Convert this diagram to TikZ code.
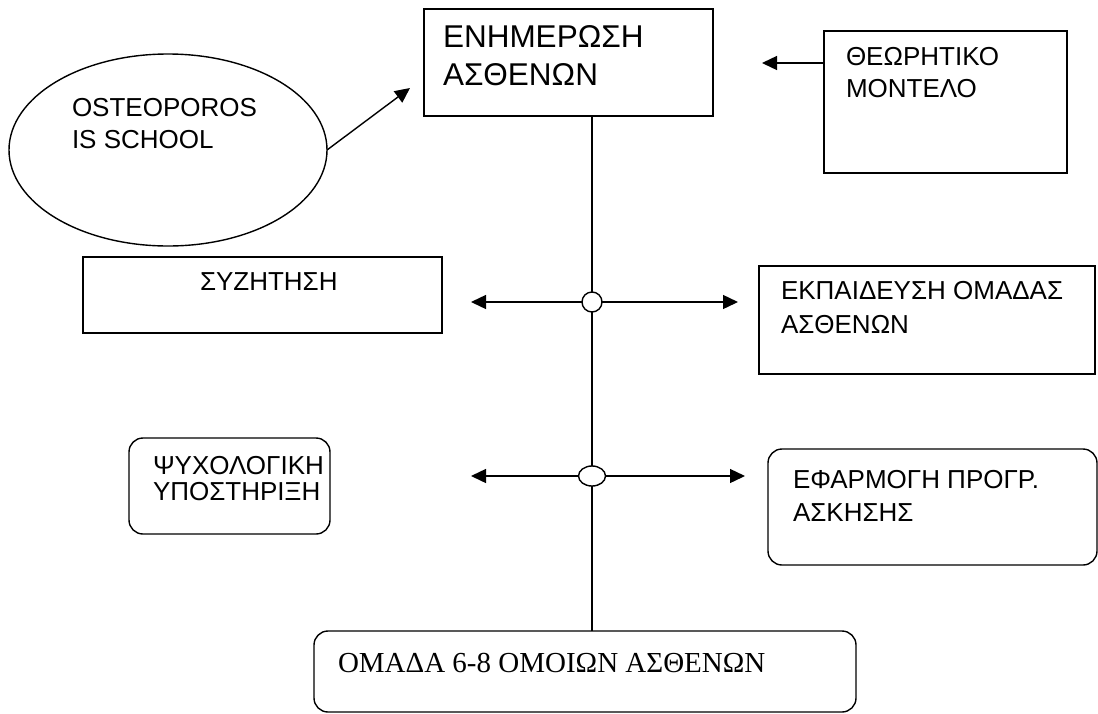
\documentclass[tikz,border=0pt]{standalone}
\usepackage{fontspec}
\setmainfont{Liberation Sans}
\newfontfamily\timesfont{Liberation Serif}
\usetikzlibrary{arrows.meta,shapes.geometric}
\begin{document}
\begin{tikzpicture}[x=1pt,y=-1pt,line width=1.4pt,
  box/.style={draw,rectangle,anchor=north west,inner sep=0pt,outer sep=0pt},
  rbox/.style={box,rounded corners=14pt},
  txt/.style={anchor=north west,inner sep=0pt,outer sep=0pt,align=left},
  arr/.style={-{Triangle[length=15pt,width=14pt]}},
  hub/.style={draw,fill=white,inner sep=0pt,outer sep=0pt}]
\useasboundingbox (0,0) rectangle (1098,713);
% boxes
\node[box,minimum width=289pt,minimum height=107pt] (enh) at (424,9) {};
\node[box,minimum width=243pt,minimum height=142pt] (theo) at (824,31) {};
\node[draw,ellipse,inner sep=0pt,outer sep=0pt,minimum width=318pt,minimum height=192pt] (ost) at (168,150) {};
\node[box,minimum width=359pt,minimum height=76pt] (syz) at (83,257) {};
\node[box,minimum width=336pt,minimum height=108pt] (ekp) at (759,266) {};
\node[rbox,minimum width=201pt,minimum height=96pt] (psy) at (129,438) {};
\node[rbox,minimum width=329pt,minimum height=116pt] (efa) at (768,449) {};
\node[rbox,minimum width=542pt,minimum height=81pt] (grp) at (314,631) {};
% texts
\node[txt,font=\fontsize{31.5}{38}\selectfont] (tenh) at (443,26) {ΕΝΗΜΕΡΩΣΗ\\ΑΣΘΕΝΩΝ};
\node[txt,font=\fontsize{26}{32}\selectfont] (ttheo) at (846,47) {ΘΕΩΡΗΤΙΚΟ\\ΜΟΝΤΕΛΟ};
\node[txt,font=\fontsize{26}{32}\selectfont] (tost) at (72,98) {OSTEOPOROS\\IS SCHOOL};
\node[txt,font=\fontsize{26}{32}\selectfont] (tsyz) at (200,273) {ΣΥΖΗΤΗΣΗ};
\node[txt,font=\fontsize{26}{34}\selectfont] (tekp) at (781,281) {ΕΚΠΑΙΔΕΥΣΗ ΟΜΑΔΑΣ\\ΑΣΘΕΝΩΝ};
\node[txt,font=\fontsize{26}{26}\selectfont] (tpsy) at (153,456) {ΨΥΧΟΛΟΓΙΚΗ\\ΥΠΟΣΤΗΡΙΞΗ};
\node[txt,font=\fontsize{26}{33}\selectfont] (tefa) at (793,470) {ΕΦΑΡΜΟΓΗ ΠΡΟΓΡ.\\ΑΣΚΗΣΗΣ};
\node[txt,font=\timesfont\fontsize{29}{35}\selectfont] (tgrp) at (338,653) {ΟΜΑΔΑ 6-8 ΟΜΟΙΩΝ ΑΣΘΕΝΩΝ};
% spine
\coordinate (s) at (592,0);
\draw (enh.south -| s) -- (grp.north -| s);
\node[hub,circle,minimum size=20pt] (h1) at (592,302) {};
\node[hub,ellipse,minimum width=27pt,minimum height=20pt] (h2) at (592,476) {};
% free ends
\coordinate (l1) at (471,302);
\coordinate (r1) at (738,302);
\coordinate (l2) at (471,476);
\coordinate (r2) at (745,476);
\coordinate (a1) at (410,88);
\coordinate (a2) at (762,63);
\draw[arr] (h1.west) -- (l1);
\draw[arr] (h1.east) -- (r1);
\draw[arr] (h2.west) -- (l2);
\draw[arr] (h2.east) -- (r2);
\draw[arr] (ost.east) -- (a1);
\draw[arr] (theo.west |- a2) -- (a2);
\end{tikzpicture}
\end{document}
